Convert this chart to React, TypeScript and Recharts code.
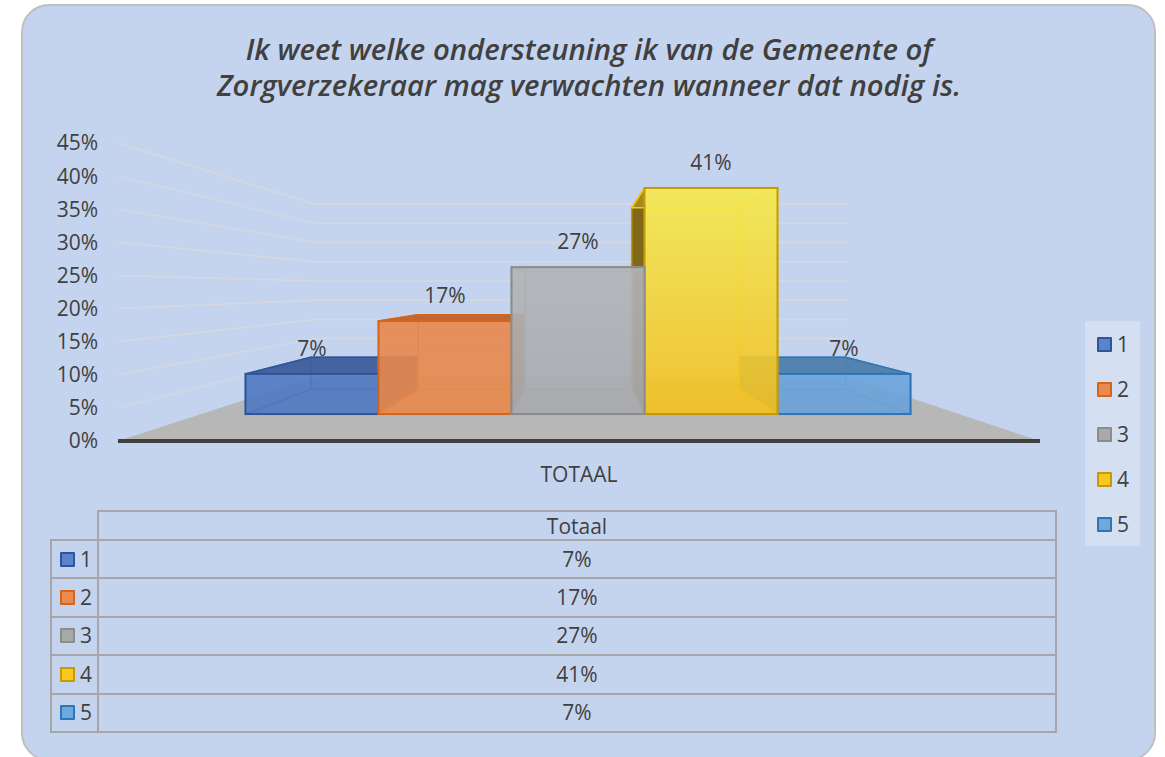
import React from 'react';
import { ComposedChart, Bar, Line, XAxis, YAxis, CartesianGrid, LabelList, Legend } from 'recharts';

const categories = ['TOTAAL'];
const seriesNames = ['1', '2', '3', '4', '5'];
const seriesValues = [7.3, 16.9, 26.7, 41.1, 7.3];
const tableValues = [7, 17, 27, 41, 7];
const yTicks = [0, 5, 10, 15, 20, 25, 30, 35, 40, 45];
const titleLines = [
  'Ik weet welke ondersteuning ik van de Gemeente of',
  'Zorgverzekeraar mag verwachten wanneer dat nodig is.',
];

const FONT = '"Open Sans", sans-serif';
const TEXT = '#404040';

type Look = { top: string; bottom: string; stroke: string; dark: string; inner: string; swatch: string };
const looks: Look[] = [
  { top: '#5079c3', bottom: '#4f79c3', stroke: '#2f5597', dark: '#3f5f9c', inner: '#4a74bd', swatch: '#5b82cc' },
  { top: '#e8884c', bottom: '#ea8a4c', stroke: '#d4661c', dark: '#c0622a', inner: '#e07a3a', swatch: '#ea8a4c' },
  { top: '#b4b5b7', bottom: '#a8aaae', stroke: '#8c8c8c', dark: '#8f8f8f', inner: '#9c9d9f', swatch: '#a9a9a9' },
  { top: '#f6ec4e', bottom: '#f5bf1e', stroke: '#c39a0a', dark: '#7a6210', inner: '#f0c81c', swatch: '#f9c820' },
  { top: '#6aa5de', bottom: '#6aa2d8', stroke: '#2e75b6', dark: '#4f7fab', inner: '#5f98cf', swatch: '#6fa8dc' },
];
const paintOrder = [301, 302, 305, 304, 303];

const VP = { x: 579, y: 289 };
const DEPTH = 0.804;
const back = (x: number, y: number) => ({ x: VP.x + (x - VP.x) * DEPTH, y: VP.y + (y - VP.y) * DEPTH });
const pts = (list: { x: number; y: number }[]) => list.map((p) => `${p.x},${p.y}`).join(' ');

const makeShape = (index: number) => (props: any) => {
  const { x, y, width, height } = props;
  const look = looks[index];
  const x2 = x + width;
  const y2 = y + height;
  const fTL = { x, y };
  const fTR = { x: x2, y };
  const fBL = { x, y: y2 };
  const fBR = { x: x2, y: y2 };
  const bTL = back(x, y);
  const bTR = back(x2, y);
  const bBL = back(x, y2);
  const bBR = back(x2, y2);
  const gid = `face-${index}`;
  const leftOuter = bTL.x < x;
  const rightOuter = bTR.x > x2;
  const topOuter = bTL.y < y;
  const face = (poly: { x: number; y: number }[], outer: boolean) => (
    <polygon
      points={pts(poly)}
      fill={outer ? look.dark : look.inner}
      fillOpacity={outer ? 0.95 : 0.35}
      stroke={outer ? look.stroke : look.inner}
      strokeWidth={outer ? 1.5 : 1.5}
      strokeLinejoin="round"
    />
  );
  return (
    <g>
      <defs>
        <linearGradient id={gid} x1="0" y1="0" x2="0" y2="1">
          <stop offset="0%" stopColor={look.top} />
          <stop offset="100%" stopColor={look.bottom} />
        </linearGradient>
      </defs>
      {face([bTL, bTR, bBR, bBL], false)}
      {face([bBL, bBR, fBR, fBL], false)}
      {face([fTL, bTL, bBL, fBL], leftOuter)}
      {face([fTR, bTR, bBR, fBR], rightOuter)}
      {face([fTL, fTR, bTR, bTL], topOuter)}
      <rect x={x} y={y} width={width} height={height} fill={`url(#${gid})`} fillOpacity={0.84} stroke={look.stroke} strokeWidth={2} />
    </g>
  );
};

const WALL = { left: 315, right: 848, floorY: 377, scale: 0.58 };

const gridLine = (p: any) => {
  const { y1, x1, x2, key } = p;
  const bottom = y1 > 440;
  if (bottom) {
    return (
      <polygon
        key={key}
        points={`${x1},${y1} ${x2},${y1} ${WALL.right},${WALL.floorY} ${WALL.left},${WALL.floorY}`}
        fill="#b7b7b7"
      />
    );
  }
  const by = WALL.floorY - (441 - y1) * WALL.scale;
  return (
    <polyline
      key={key}
      points={`${x1},${y1} ${WALL.left},${by} ${WALL.right},${by}`}
      fill="none"
      stroke="#d5d8df"
      strokeWidth={1.5}
    />
  );
};

const chartData = categories.map((c) => {
  const row: Record<string, any> = { category: c };
  seriesNames.forEach((s, i) => {
    row[s] = seriesValues[i];
  });
  return row;
});

const Swatch = ({ i }: { i: number }) => (
  <span
    style={{
      display: 'inline-block',
      boxSizing: 'border-box',
      width: 15,
      height: 15,
      background: looks[i].swatch,
      border: `2px solid ${looks[i].stroke}`,
      borderRadius: 1,
    }}
  />
);

const LegendBox = () => (
  <div style={{ width: 55, height: 225, background: '#d4dff2', position: 'relative', fontFamily: FONT, fontSize: 21, color: TEXT }}>
    {seriesNames.map((s, i) => (
      <div key={s} style={{ position: 'absolute', left: 12, top: 15 + i * 45, height: 16, display: 'flex', alignItems: 'center', lineHeight: '16px' }}>
        <Swatch i={i} />
        <span style={{ marginLeft: 5 }}>{s}</span>
      </div>
    ))}
  </div>
);

const cell: React.CSSProperties = { border: '2px solid #a6a6a6', padding: 0, textAlign: 'center', height: 36.4, lineHeight: '27px' };

const DataTable = () => (
  <table
    style={{
      position: 'absolute',
      left: 50,
      top: 510,
      width: 1007,
      borderCollapse: 'collapse',
      tableLayout: 'fixed',
      fontFamily: FONT,
      fontSize: 21,
      color: TEXT,
    }}
  >
    <colgroup>
      <col style={{ width: 47 }} />
      <col />
    </colgroup>
    <tbody>
      <tr>
        <td style={{ padding: 0, border: 'none' }} />
        <td style={{ ...cell, height: 27, lineHeight: '24px' }}>Totaal</td>
      </tr>
      {seriesNames.map((s, i) => (
        <tr key={s}>
          <td style={{ ...cell, textAlign: 'left' }}>
            <div style={{ display: 'flex', alignItems: 'center', paddingLeft: 8 }}>
              <Swatch i={i} />
              <span style={{ marginLeft: 5 }}>{s}</span>
            </div>
          </td>
          <td style={cell}>{tableValues[i]}%</td>
        </tr>
      ))}
    </tbody>
  </table>
);

export default function App() {
  return (
    <div style={{ position: 'absolute', left: 0, top: 0, width: 1165, height: 757, overflow: 'hidden', background: '#fff' }}>
      <div
        style={{
          position: 'absolute',
          left: 21,
          top: 4,
          width: 1135,
          height: 757,
          boxSizing: 'border-box',
          background: '#c5d4ee',
          border: '2px solid #bfbfbf',
          borderRadius: 28,
        }}
      />
      <div style={{ position: 'absolute', left: 0, top: 0 }}>
        <ComposedChart
          width={1165}
          height={757}
          data={chartData}
          margin={{ left: 58, right: 125, top: 143, bottom: 266 }}
          barCategoryGap="13.83%"
          barGap={0}
        >
          <CartesianGrid yAxisId="pct" vertical={false} horizontal={gridLine} />
          <XAxis
            dataKey="category"
            height={50}
            tickLine={false}
            axisLine={{ stroke: '#404040', strokeWidth: 4 }}
            tick={{ fontFamily: FONT, fontSize: 21, fill: TEXT }}
            tickMargin={20}
          />
          <YAxis yAxisId="bars" hide width={0} domain={[-4.9, 49.27]} allowDataOverflow />
          <YAxis
            yAxisId="pct"
            width={60}
            domain={[0, 45]}
            ticks={yTicks}
            interval={0}
            tickFormatter={(v: number) => `${v}%`}
            tickLine={false}
            axisLine={false}
            tickMargin={14}
            tick={{ fontFamily: FONT, fontSize: 21, fill: TEXT }}
          />
          <Legend
            layout="vertical"
            align="center"
            verticalAlign="middle"
            wrapperStyle={{ left: 1085, top: 321, width: 55, height: 225 }}
            content={() => <LegendBox />}
          />
          <Line yAxisId="pct" dataKey={seriesNames[0]} stroke="none" fill="none" dot={false} legendType="none" isAnimationActive={false} />
          {seriesNames.map((s, i) => (
            <Bar
              key={s}
              yAxisId="bars"
              dataKey={s}
              name={s}
              fill={looks[i].swatch}
              isAnimationActive={false}
              shape={makeShape(i)}
              {...({ zIndex: paintOrder[i] } as any)}
            >
              <LabelList
                dataKey={s}
                position="top"
                offset={18}
                formatter={(v: number) => `${Math.round(v)}%`}
                style={{ fontFamily: FONT, fontSize: 21, fill: TEXT }}
              />
            </Bar>
          ))}
        </ComposedChart>
      </div>
      <svg width={1165} height={110} style={{ position: 'absolute', left: 0, top: 0 }}>
        {titleLines.map((t, i) => (
          <text
            key={t}
            x={589}
            y={60 + i * 36}
            textAnchor="middle"
            fontFamily={FONT}
            fontSize={29.3}
            fontWeight={600}
            fontStyle="italic"
            fill={TEXT}
          >
            {t}
          </text>
        ))}
      </svg>
      <DataTable />
    </div>
  );
}
